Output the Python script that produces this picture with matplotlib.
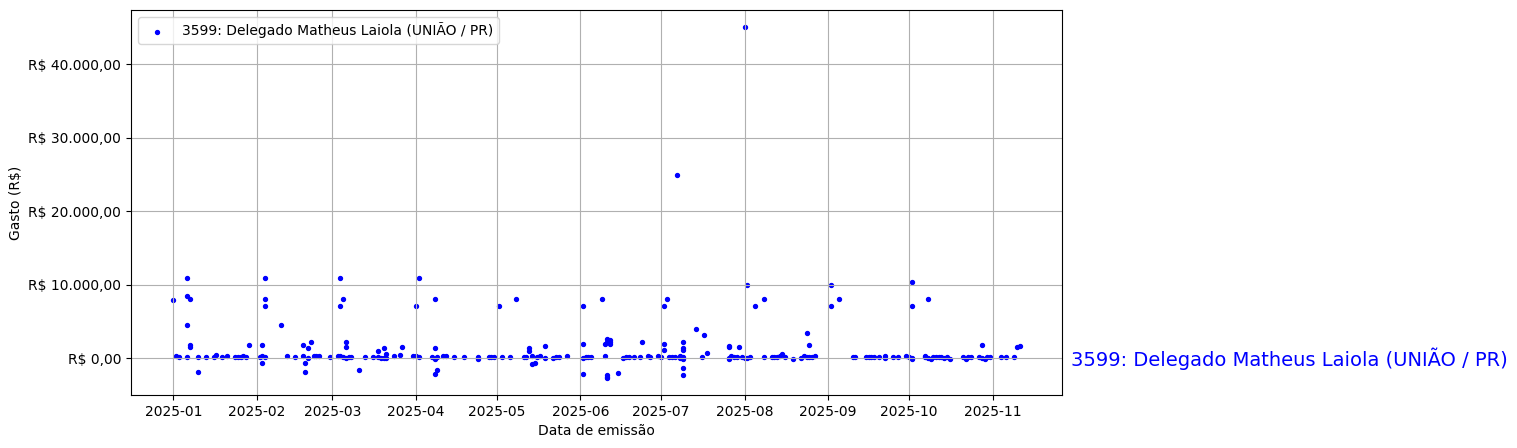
import numpy as np
import pandas as pd
import matplotlib
matplotlib.use("Agg")
import matplotlib.pyplot as plt
import matplotlib.dates as mdates
import matplotlib.transforms as mtransforms
from matplotlib.ticker import FuncFormatter

# deputado / legenda
nome = "3599: Delegado Matheus Laiola (UNIÃO / PR)"

# datas de emissao e valores (R$)
datas = [
    # jan
    "2025-01-01", "2025-01-02", "2025-01-03", "2025-01-06", "2025-01-06", "2025-01-07",
    "2025-01-06", "2025-01-07", "2025-01-07", "2025-01-06", "2025-01-10", "2025-01-10",
    "2025-01-13", "2025-01-16", "2025-01-17", "2025-01-19", "2025-01-21", "2025-01-24",
    "2025-01-25", "2025-01-26", "2025-01-27", "2025-01-28", "2025-01-29",
    # fev
    "2025-02-02", "2025-02-03", "2025-02-03", "2025-02-04", "2025-02-04", "2025-02-04",
    "2025-02-03", "2025-02-04", "2025-02-10", "2025-02-12", "2025-02-15", "2025-02-18",
    "2025-02-18", "2025-02-19", "2025-02-19", "2025-02-20", "2025-02-20", "2025-02-21",
    "2025-02-22", "2025-02-23", "2025-02-24", "2025-02-28",
    # mar
    "2025-03-03", "2025-03-04", "2025-03-05", "2025-03-04", "2025-03-06", "2025-03-06",
    "2025-03-04", "2025-03-05", "2025-03-06", "2025-03-07", "2025-03-08", "2025-03-11",
    "2025-03-13", "2025-03-16", "2025-03-18", "2025-03-18", "2025-03-19", "2025-03-20",
    "2025-03-20", "2025-03-21", "2025-03-21", "2025-03-24", "2025-03-26", "2025-03-27",
    "2025-03-31",
    # abr
    "2025-04-01", "2025-04-01", "2025-04-02", "2025-04-02", "2025-04-07", "2025-04-08",
    "2025-04-08", "2025-04-08", "2025-04-08", "2025-04-09", "2025-04-09", "2025-04-11",
    "2025-04-12", "2025-04-15", "2025-04-19", "2025-04-24", "2025-04-24", "2025-04-28",
    "2025-04-29", "2025-04-30",
    # mai
    "2025-05-02", "2025-05-03", "2025-05-06", "2025-05-08", "2025-05-11", "2025-05-12",
    "2025-05-13", "2025-05-13", "2025-05-14", "2025-05-14", "2025-05-15", "2025-05-16",
    "2025-05-17", "2025-05-19", "2025-05-19", "2025-05-22", "2025-05-23", "2025-05-24",
    "2025-05-27",
    # jun
    "2025-06-02", "2025-06-02", "2025-06-02", "2025-06-02", "2025-06-03", "2025-06-04",
    "2025-06-05", "2025-06-09", "2025-06-10", "2025-06-10", "2025-06-11", "2025-06-11",
    "2025-06-12", "2025-06-12", "2025-06-12", "2025-06-11", "2025-06-11", "2025-06-11",
    "2025-06-15", "2025-06-17", "2025-06-18", "2025-06-19", "2025-06-21", "2025-06-23",
    "2025-06-24", "2025-06-26", "2025-06-27", "2025-06-30",
    # jul
    "2025-07-01", "2025-07-02", "2025-07-03", "2025-07-02", "2025-07-02", "2025-07-04",
    "2025-07-05", "2025-07-06", "2025-07-07", "2025-07-08", "2025-07-08", "2025-07-08",
    "2025-07-09", "2025-07-09", "2025-07-09", "2025-07-09", "2025-07-09", "2025-07-09",
    "2025-07-09", "2025-07-14", "2025-07-16", "2025-07-17", "2025-07-18", "2025-07-26",
    "2025-07-26", "2025-07-26", "2025-07-26", "2025-07-27", "2025-07-28", "2025-07-29",
    "2025-07-30", "2025-07-31",
    # ago
    "2025-08-01", "2025-08-01", "2025-08-02", "2025-08-02", "2025-08-03", "2025-08-05",
    "2025-08-08", "2025-08-08", "2025-08-11", "2025-08-12", "2025-08-13", "2025-08-14",
    "2025-08-15", "2025-08-16", "2025-08-19", "2025-08-22", "2025-08-23", "2025-08-24",
    "2025-08-25", "2025-08-24", "2025-08-25", "2025-08-26", "2025-08-27",
    # set
    "2025-09-02", "2025-09-02", "2025-09-05", "2025-09-10", "2025-09-11", "2025-09-15",
    "2025-09-16", "2025-09-17", "2025-09-18", "2025-09-20", "2025-09-22", "2025-09-22",
    "2025-09-25", "2025-09-27", "2025-09-30",
    # out
    "2025-10-01", "2025-10-02", "2025-10-02", "2025-10-02", "2025-10-02", "2025-10-08",
    "2025-10-07", "2025-10-07", "2025-10-08", "2025-10-09", "2025-10-10", "2025-10-11",
    "2025-10-12", "2025-10-13", "2025-10-14", "2025-10-15", "2025-10-16", "2025-10-21",
    "2025-10-22", "2025-10-23", "2025-10-24", "2025-10-27", "2025-10-28", "2025-10-28",
    "2025-10-29", "2025-10-30", "2025-10-31",
    # nov
    "2025-11-04", "2025-11-06", "2025-11-09", "2025-11-10", "2025-11-11",
]

valores = [
    # jan
    7900, 300, 150, 11000, 8500, 8100,
    4500, 1900, 1600, 150, 150, -1900,
    150, 150, 450, 150, 400, 150,
    150, 150, 300, 150, 1900,
    # fev
    150, 300, -550, 11000, 8100, 7100,
    1900, 150, 4500, 300, 150, 300,
    1900, -1900, -550, 1400, 0, 2200,
    300, 300, 300, 200,
    # mar
    300, 11000, 8100, 7100, 2200, 1500,
    300, 150, 0, 150, 150, -1500,
    150, 150, 150, 1000, 100, 100,
    1400, 600, 0, 300, 500, 1500,
    300,
    # abr
    7100, 300, 11000, 150, 150, 8100,
    1400, -100, -2150, -1500, 150, 300,
    300, 150, 150, 150, -100, 150,
    150, 150,
    # mai
    7100, 150, 150, 8100, 150, 150,
    1400, 1000, 300, -800, -550, 150,
    300, 1700, 0, 0, 150, 150,
    300,
    # jun
    7100, 2000, 0, -2150, 150, 150,
    150, 8100, 300, 2000, 2600, 2300,
    2500, 2200, 2000, -2200, -2500, -2600,
    -2000, 0, 150, 150, 150, 150,
    2200, 300, 150, 300,
    # jul
    150, 7100, 8100, 2000, 1100, 150,
    150, 150, 25000, 150, 300, 0,
    -100, 150, 2200, 1400, 1100, -1250,
    -2300, 3950, 150, 3150, 700, 1700,
    1500, 0, -100, 300, 150, 150,
    1500, 150,
    # ago
    45000, 0, 0, 10000, 150, 7100,
    8100, 150, 150, 150, 150, 300,
    600, 150, -50, 0, 300, 3500,
    1900, 150, 150, 150, 300,
    # set
    10000, 7100, 8100, 150, 150, 150,
    150, 150, 150, 150, 300, 0,
    150, 150, 300,
    # out
    150, 0, -100, 10400, 7100, 8100,
    300, 150, 0, -100, 150, 150,
    150, 150, 0, 150, -50, 150,
    -50, 150, 150, 150, 1900, 0,
    -100, 150, 150,
    # nov
    150, 150, 150, 1500, 1700,
]

df = pd.DataFrame({"data": pd.to_datetime(datas), "valor": valores})


def reais(v, pos=None):
    s = f"{v:,.2f}"
    s = s.replace(",", "X").replace(".", ",").replace("X", ".")
    return "R$ " + s


fig, ax = plt.subplots(figsize=(15.17, 4.48), dpi=100)
fig.subplots_adjust(left=0.0864, right=0.700, bottom=0.118, top=0.978)

ax.scatter(df["data"], df["valor"], s=8, color="blue", label=nome)

ax.yaxis.set_major_formatter(FuncFormatter(reais))
ax.set_yticks([0, 10000, 20000, 30000, 40000])
ax.xaxis.set_major_locator(mdates.MonthLocator())
ax.xaxis.set_major_formatter(mdates.DateFormatter("%Y-%m"))

ax.set_xlabel("Data de emissão")
ax.set_ylabel("Gasto (R$)")
ax.grid(True)
ax.legend(loc="upper left")

# nome do deputado a direita, na altura do zero
trans = mtransforms.blended_transform_factory(ax.transAxes, ax.transData)
ax.text(1.01, 0, nome, transform=trans, color="blue", fontsize=14, va="center", ha="left")

fig.savefig("out.png", dpi=100)
